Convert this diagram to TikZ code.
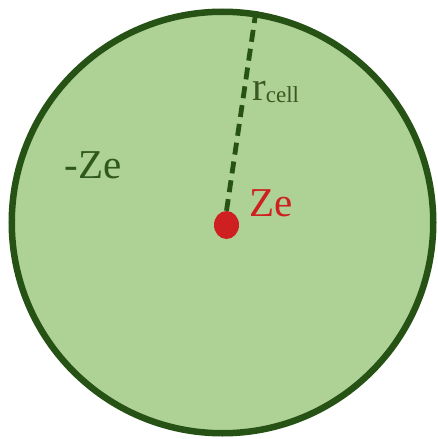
\documentclass[tikz,border=0pt]{standalone}
\usepackage{fontspec}
\setmainfont{Liberation Serif}
\usetikzlibrary{shapes.geometric}
\definecolor{cellfill}{RGB}{174,209,149}
\definecolor{celledge}{RGB}{38,82,22}
\definecolor{chargered}{RGB}{206,32,32}
\definecolor{chargegreen}{RGB}{46,88,30}
\definecolor{radiuslabel}{RGB}{58,88,36}

\begin{document}
\begin{tikzpicture}[x=1pt, y=-1pt, every node/.style={font=\fontsize{41}{48}\selectfont}]
        % Wigner-Seitz cell with the central charge
        \useasboundingbox (0,0) rectangle (437,439);
        \node[draw=celledge, fill=cellfill, circle, line width=6.5pt, minimum size=421.5pt, inner sep=0pt] (cell) at (222.5,222.5) {};
        \node[fill=chargered, ellipse, minimum width=25pt, minimum height=28pt, inner sep=0pt] (nucleus) at (226.5,225) {};
        % cell radius
        \draw[celledge, line width=4.8pt, dash pattern=on 12pt off 7pt] (cell.81.5) -- (nucleus.north);
        \node[anchor=base west, inner sep=0pt, text=radiuslabel] (rlabel) at (252,100) {r\raisebox{-2pt}{\fontsize{23}{26}\selectfont cell}};
        % charges
        \node[anchor=base, inner sep=0pt, text=chargegreen] (cloud) at (93,178) {-Ze};
        \node[anchor=base west, inner sep=0pt, text=chargered] (core) at (249,216) {Ze};
      \end{tikzpicture}
\end{document}
